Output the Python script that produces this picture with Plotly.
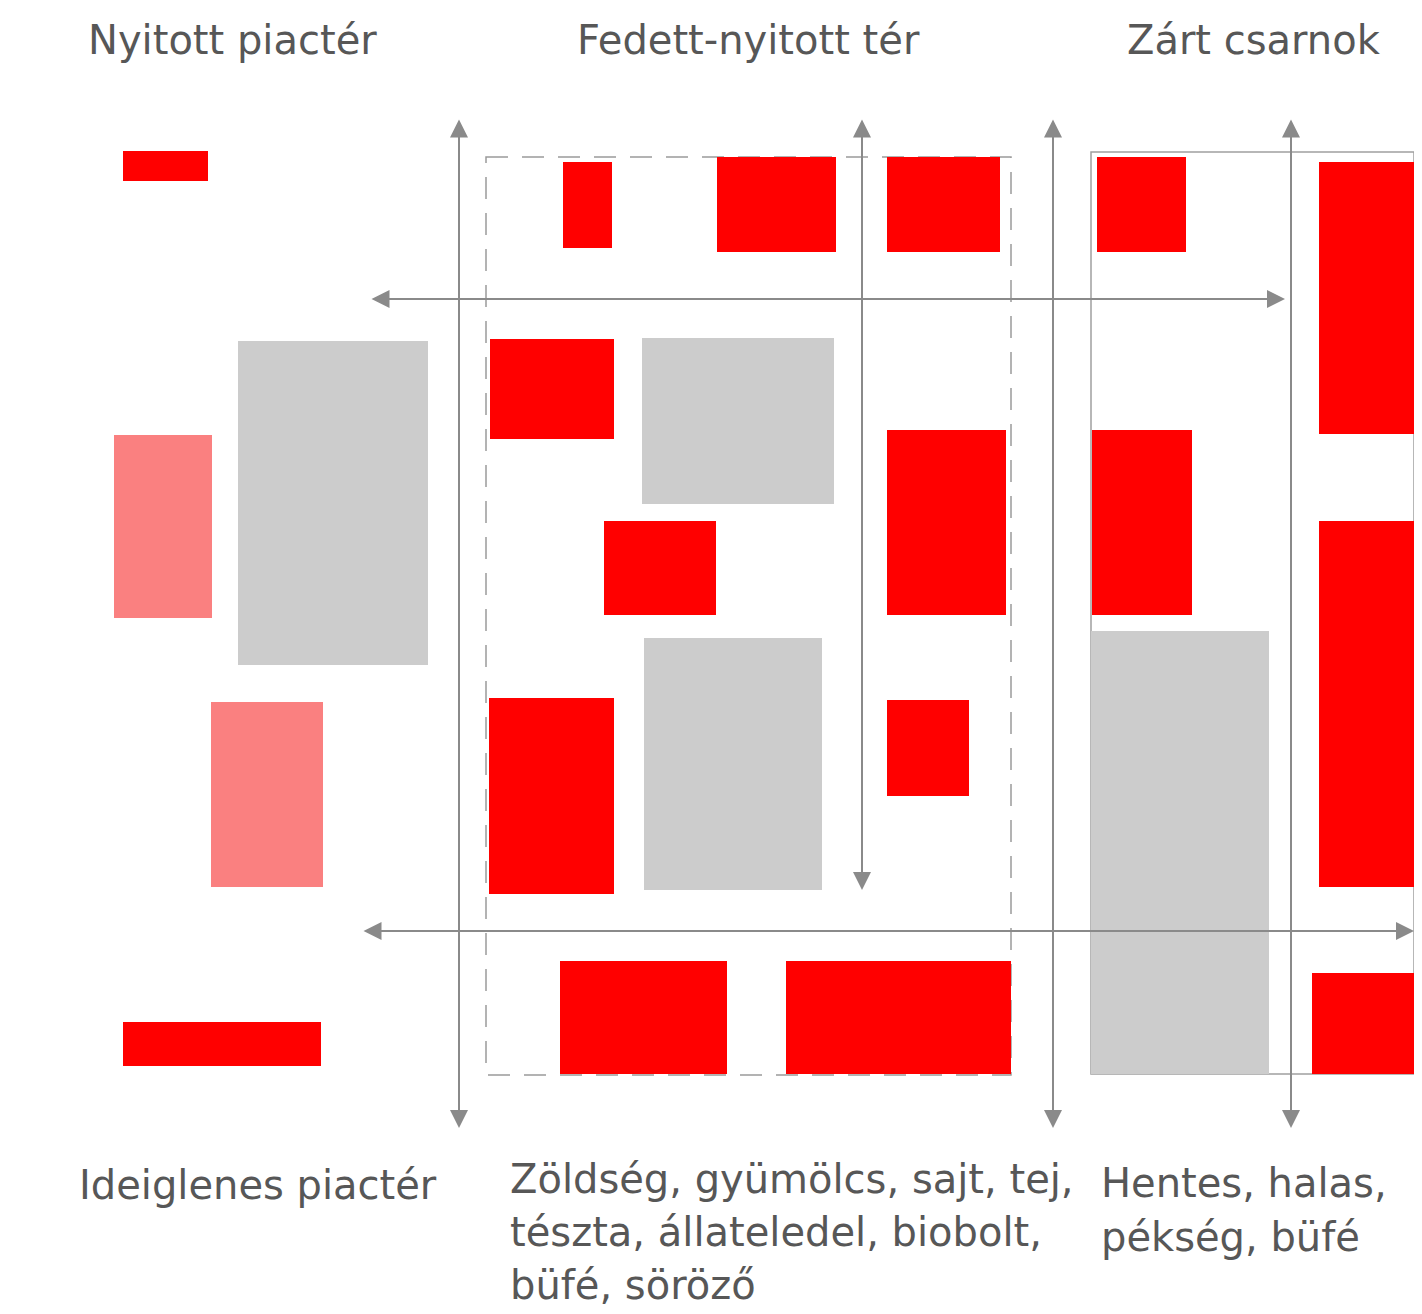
import plotly.graph_objects as go

# Rectangles: [x0, x1, y0, y1] in diagram units (image pixels, y downward)
red_rects = [
    [123, 208, 151, 181],
    [563, 612, 162, 248],
    [717, 836, 157, 252],
    [887, 1000, 157, 252],
    [1097, 1186, 157, 252],
    [1319, 1414, 162, 434],
    [490, 614, 339, 439],
    [604, 716, 521, 615],
    [887, 1006, 430, 615],
    [1092, 1192, 430, 615],
    [1319, 1414, 521, 887],
    [489, 614, 698, 894],
    [887, 969, 700, 796],
    [560, 727, 961, 1074],
    [786, 1011, 961, 1074],
    [1312, 1414, 973, 1074],
    [123, 321, 1022, 1066],
]
pink_rects = [
    [114, 212, 435, 618],
    [211, 323, 702, 887],
]
gray_rects = [
    [238, 428, 341, 665],
    [642, 834, 338, 504],
    [644, 822, 638, 890],
    [1091, 1269, 631, 1074],
]
dashed_box = [486, 1011, 157, 1075]
solid_box = [1091, 1414, 152, 1074]

# Double-headed arrows: [x_start, y_start, x_end, y_end]
arrows = [
    [459, 118, 459, 1128],
    [862, 118, 862, 890],
    [1053, 118, 1053, 1128],
    [1291, 118, 1291, 1128],
    [370, 299, 1285, 299],
    [362, 931, 1414, 931],
]

# Labels: text, x, y
labels = [
    ("Nyitott piactér", 86, 40),
    ("Fedett-nyitott tér", 575, 40),
    ("Zárt csarnok", 1125, 40),
    ("Ideiglenes piactér", 77, 1185),
    ("Zöldség, gyümölcs, sajt, tej,", 508, 1179),
    ("tészta, állateledel, biobolt,", 508, 1232),
    ("büfé, söröző", 508, 1285),
    ("Hentes, halas,", 1099, 1183),
    ("pékség, büfé", 1099, 1237),
]

RED = "#FF0000"
PINK = "#FA8080"
GRAY = "#CCCCCC"
LINE = "#8A8A8A"
TEXT = "#575757"

# page body margin offset (px)
OFF = 8

fig = go.Figure()
shapes = []
shapes.append(dict(type="rect", xref="x", yref="y", x0=dashed_box[0], x1=dashed_box[1],
                   y0=dashed_box[2], y1=dashed_box[3],
                   line=dict(color="#9A9A9A", width=1.5, dash="22px,14px"),
                   fillcolor="rgba(0,0,0,0)", layer="below"))
shapes.append(dict(type="rect", xref="x", yref="y", x0=solid_box[0], x1=solid_box[1],
                   y0=solid_box[2], y1=solid_box[3], line=dict(color="#A0A0A0", width=1.5),
                   fillcolor="rgba(0,0,0,0)", layer="below"))
for rects, col in [(gray_rects, GRAY), (pink_rects, PINK), (red_rects, RED)]:
    for r in rects:
        shapes.append(dict(type="rect", xref="x", yref="y", x0=r[0], x1=r[1], y0=r[2], y1=r[3],
                           fillcolor=col, line=dict(width=0), layer="below"))

annotations = []
for a in arrows:
    annotations.append(dict(x=a[2], y=a[3], ax=a[0], ay=a[1], xref="x", yref="y", axref="x", ayref="y",
                            text="", showarrow=True, arrowside="end+start", arrowhead=2, startarrowhead=2,
                            arrowsize=1.8, startarrowsize=1.8, arrowwidth=2, arrowcolor=LINE))
for t, x, y in labels:
    annotations.append(dict(x=x, y=y, xref="x", yref="y", text=t, showarrow=False, xanchor="left",
                            yanchor="middle", align="left",
                            font=dict(family="DejaVu Sans", size=40, color=TEXT)))

fig.add_trace(go.Scatter(x=[OFF, 1422], y=[OFF, 1314], mode="markers", marker=dict(opacity=0),
                         hoverinfo="skip", showlegend=False))
fig.update_layout(width=1422 - OFF, height=1314 - OFF, margin=dict(l=0, r=0, t=0, b=0),
                  paper_bgcolor="white", plot_bgcolor="white",
                  xaxis=dict(range=[OFF, 1422], visible=False, fixedrange=True),
                  yaxis=dict(range=[1314, OFF], visible=False, fixedrange=True),
                  shapes=shapes, annotations=annotations, showlegend=False)
fig.write_html("out.html")
